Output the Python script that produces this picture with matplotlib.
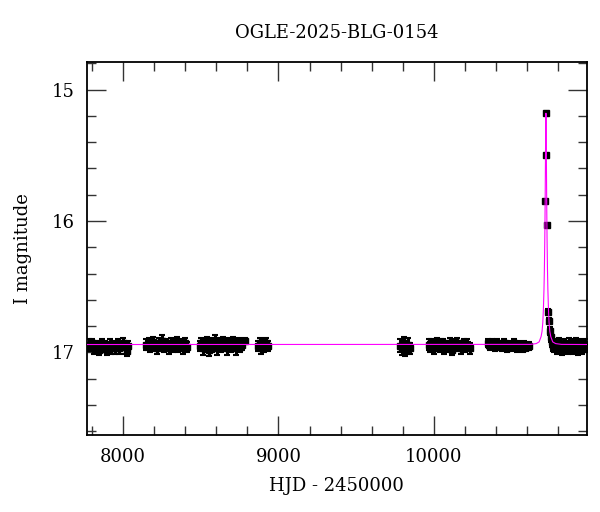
import matplotlib
matplotlib.use("Agg")
import matplotlib.pyplot as plt
from matplotlib.ticker import MultipleLocator

plt.rcParams['font.family'] = ['DejaVu Serif']

title = "OGLE-2025-BLG-0154"
xlabel = "HJD - 2450000"
ylabel = "I magnitude"

s1_t = [7778, 7786, 7795, 7803, 7812, 7820, 7829, 7838, 7846, 7855, 7864, 7872, 7881, 7890, 7898,
        7907, 7916, 7924, 7933, 7942, 7950, 7959, 7968, 7977, 7990, 8002, 8015, 8028, 8035]
s1_m = [16.94, 16.96, 16.95, 16.93, 16.97, 16.96, 16.94, 16.95, 16.98, 16.96, 16.94, 16.97, 16.95, 16.96, 16.98,
        16.95, 16.94, 16.97, 16.96, 16.95, 16.97, 16.96, 16.94, 16.97, 16.95, 16.93, 16.96, 16.99, 16.95]
s1_e = [0.04, 0.03, 0.04, 0.03, 0.04, 0.04, 0.03, 0.04, 0.04, 0.03, 0.04, 0.03, 0.04, 0.04, 0.04,
        0.03, 0.04, 0.04, 0.03, 0.04, 0.04, 0.03, 0.04, 0.04, 0.03, 0.04, 0.05, 0.04, 0.04]

s2_t = [8150, 8158, 8167, 8176, 8185, 8194, 8203, 8212, 8221, 8230, 8239, 8248, 8257, 8266, 8275,
        8284, 8293, 8302, 8311, 8320, 8329, 8338, 8347, 8356, 8365, 8374, 8383, 8392, 8401, 8410]
s2_m = [16.94, 16.95, 16.93, 16.96, 16.94, 16.92, 16.95, 16.94, 16.97, 16.93, 16.95, 16.91, 16.94, 16.96, 16.93,
        16.95, 16.97, 16.94, 16.93, 16.96, 16.95, 16.94, 16.92, 16.96, 16.95, 16.94, 16.97, 16.95, 16.93, 16.96]
s2_e = [0.04, 0.03, 0.04, 0.04, 0.03, 0.04, 0.04, 0.03, 0.04, 0.04, 0.03, 0.04, 0.04, 0.04, 0.03,
        0.04, 0.04, 0.03, 0.04, 0.04, 0.03, 0.04, 0.04, 0.04, 0.03, 0.04, 0.04, 0.03, 0.04, 0.04]

s3_t = [8496, 8504, 8513, 8521, 8530, 8538, 8547, 8556, 8564, 8573, 8581, 8590, 8599, 8607, 8616, 8624, 8633,
        8641, 8650, 8659, 8667, 8676, 8684, 8693, 8702, 8710, 8719, 8728, 8736, 8745, 8755, 8765, 8786]
s3_m = [16.95, 16.93, 16.97, 16.94, 16.96, 16.92, 16.95, 16.98, 16.93, 16.96, 16.94, 16.91, 16.95, 16.97, 16.93,
        16.94, 16.96, 16.92, 16.95, 16.94, 16.97, 16.93, 16.95, 16.96, 16.94, 16.92, 16.95, 16.97, 16.94, 16.93,
        16.96, 16.94, 16.91]
s3_e = [0.04, 0.04, 0.05, 0.04, 0.04, 0.04, 0.04, 0.05, 0.04, 0.04, 0.04, 0.04, 0.04, 0.05, 0.04, 0.04, 0.04,
        0.04, 0.04, 0.04, 0.05, 0.04, 0.04, 0.04, 0.04, 0.04, 0.04, 0.05, 0.04, 0.04, 0.04, 0.04, 0.02]

s4_t = [8870, 8880, 8890, 8900, 8910, 8920, 8930]
s4_m = [16.95, 16.93, 16.97, 16.94, 16.96, 16.93, 16.95]
s4_e = [0.04, 0.04, 0.04, 0.04, 0.04, 0.04, 0.04]

s5_t = [9785, 9795, 9805, 9815, 9825, 9835, 9845]
s5_m = [16.95, 16.97, 16.93, 16.98, 16.96, 16.94, 16.97]
s5_e = [0.05, 0.05, 0.05, 0.05, 0.05, 0.05, 0.04]

s6_t = [9966, 9975, 9984, 9993, 10002, 10011, 10020, 10029, 10038, 10047, 10056, 10065, 10074, 10083, 10092,
        10101, 10110, 10119, 10128, 10137, 10146, 10155, 10164, 10173, 10182, 10191, 10200, 10210, 10220, 10230]
s6_m = [16.94, 16.96, 16.93, 16.95, 16.97, 16.94, 16.92, 16.95, 16.96, 16.94, 16.93, 16.97, 16.95, 16.94, 16.96,
        16.93, 16.95, 16.98, 16.94, 16.96, 16.93, 16.95, 16.94, 16.97, 16.95, 16.93, 16.96, 16.94, 16.95, 16.97]
s6_e = [0.04, 0.04, 0.03, 0.04, 0.04, 0.04, 0.03, 0.04, 0.04, 0.04, 0.03, 0.04, 0.04, 0.03, 0.04,
        0.04, 0.03, 0.04, 0.04, 0.03, 0.04, 0.04, 0.03, 0.04, 0.04, 0.03, 0.04, 0.04, 0.03, 0.04]

s7_t = [10346, 10355, 10364, 10373, 10382, 10391, 10400, 10409, 10418, 10427, 10436, 10445, 10454, 10463, 10472,
        10481, 10490, 10499, 10508, 10517, 10526, 10535, 10544, 10553, 10562, 10571, 10580, 10590, 10600, 10612]
s7_m = [16.93, 16.94, 16.95, 16.93, 16.94, 16.96, 16.94, 16.93, 16.95, 16.94, 16.96, 16.95, 16.93, 16.94, 16.97,
        16.95, 16.94, 16.96, 16.95, 16.93, 16.95, 16.97, 16.94, 16.96, 16.95, 16.97, 16.94, 16.96, 16.95, 16.95]
s7_e = [0.03, 0.03, 0.03, 0.03, 0.03, 0.03, 0.03, 0.03, 0.03, 0.03, 0.03, 0.03, 0.03, 0.03, 0.03,
        0.03, 0.03, 0.03, 0.03, 0.03, 0.03, 0.03, 0.03, 0.03, 0.03, 0.03, 0.03, 0.03, 0.03, 0.03]

peak_t = [10716, 10721, 10723.8, 10727.3]
peak_m = [15.85, 15.18, 15.50, 16.03]
peak_e = [0.01, 0.01, 0.01, 0.01]

s8_t = [10737, 10741, 10746, 10752, 10758, 10765, 10773, 10781, 10790, 10799, 10808, 10817, 10826, 10835, 10844,
        10853, 10862, 10871, 10880, 10889, 10898, 10907, 10916, 10925, 10934, 10943, 10952, 10961, 10970, 10980]
s8_m = [16.69, 16.76, 16.84, 16.88, 16.92, 16.95, 16.96, 16.94, 16.97, 16.95, 16.93, 16.96, 16.98, 16.94, 16.96,
        16.95, 16.97, 16.93, 16.96, 16.94, 16.97, 16.95, 16.93, 16.98, 16.96, 16.94, 16.97, 16.95, 16.96, 16.94]
s8_e = [0.02, 0.02, 0.03, 0.04, 0.04, 0.04, 0.04, 0.04, 0.04, 0.04, 0.04, 0.04, 0.04, 0.04, 0.04,
        0.04, 0.04, 0.04, 0.04, 0.04, 0.04, 0.04, 0.04, 0.04, 0.04, 0.04, 0.04, 0.04, 0.04, 0.04]

model_t = [7760, 10621, 10658.5, 10677.25, 10689.75, 10696, 10701, 10704.75, 10708.5, 10711, 10713.5, 10714.75,
           10716, 10717.25, 10718.5, 10719.75, 10721, 10722.25, 10723.5, 10724.75, 10726, 10727.25, 10728.5,
           10731, 10733.5, 10737.25, 10741, 10746, 10752.25, 10764.75, 10783.5, 10821, 10990]
model_m = [16.94, 16.939, 16.933, 16.92, 16.88, 16.84, 16.77, 16.67, 16.52, 16.37, 16.16, 16.02, 15.855, 15.66,
           15.45, 15.26, 15.18, 15.26, 15.45, 15.66, 15.855, 16.02, 16.16, 16.37, 16.52, 16.67, 16.77, 16.84,
           16.88, 16.92, 16.933, 16.939, 16.94]

fig = plt.figure(figsize=(6.0, 5.12), dpi=100)
ax = fig.add_axes([0.145, 0.150, 0.833, 0.729])

seasons = [(s1_t, s1_m, s1_e), (s2_t, s2_m, s2_e), (s3_t, s3_m, s3_e), (s4_t, s4_m, s4_e),
           (s5_t, s5_m, s5_e), (s6_t, s6_m, s6_e), (s7_t, s7_m, s7_e), (peak_t, peak_m, peak_e),
           (s8_t, s8_m, s8_e)]
for t, m, e in seasons:
    ax.errorbar(t, m, yerr=e, fmt='s', color='black', ms=4.2, elinewidth=2.2,
                capsize=2.0, capthick=1.5, zorder=2)

ax.plot(model_t, model_m, color='#ff00ff', lw=0.8, zorder=3)

ax.set_xlim(7768, 10984)
ax.set_ylim(17.63, 14.79)

ax.xaxis.set_major_locator(MultipleLocator(1000))
ax.xaxis.set_minor_locator(MultipleLocator(200))
ax.yaxis.set_major_locator(MultipleLocator(1))
ax.yaxis.set_minor_locator(MultipleLocator(0.2))
ax.tick_params(which='both', direction='in', top=True, right=True, color='#333333')
ax.tick_params(which='major', length=13.5, width=1.0, labelsize=13, pad=9)
ax.tick_params(which='minor', length=6.5, width=1.0)
for s in ax.spines.values():
    s.set_linewidth(1.3)

ax.set_title(title, fontsize=13, pad=17)
ax.set_xlabel(xlabel, fontsize=13, labelpad=8)
ax.set_ylabel(ylabel, fontsize=13, labelpad=14)

fig.savefig("out.png", dpi=100)
